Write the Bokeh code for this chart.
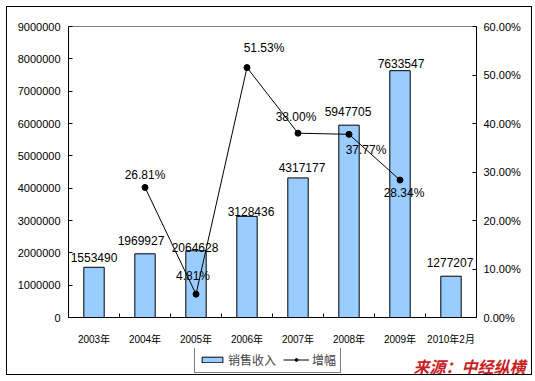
import numpy as np
from bokeh.plotting import figure
from bokeh.layouts import column, row
from bokeh.core.properties import value
from bokeh.models import (ColumnDataSource, Range1d, LinearAxis, FixedTicker,
                          NumeralTickFormatter, LabelSet, Legend, LegendItem, Label)
from bokeh.embed import file_html
from bokeh.resources import INLINE

# ---- data ----
categories = ["2003年", "2004年", "2005年", "2006年", "2007年", "2008年", "2009年", "2010年2月"]
sales = [1553490, 1969927, 2064628, 3128436, 4317177, 5947705, 7633547, 1277207]
growth_pct = [None, 26.81, 4.81, 51.53, 38.00, 37.77, 28.34, None]
sales_ticks = [0, 1000000, 2000000, 3000000, 4000000, 5000000, 6000000, 7000000, 8000000, 9000000]
pct_ticks = [0.0, 0.1, 0.2, 0.3, 0.4, 0.5, 0.6]
series_names = ["销售收入", "增幅"]
source_note = "来源：中经纵横"

# ---- label placement (pixel offsets, style only) ----
bar_lbl_dx = [0, -4, -1, 4, 4, -1, 1, -1]
bar_lbl_dy = [10, 13, 3, 5, 10, 14, 7, 14]
pct_lbl_dx = [0, 0, -3, 17, -2, 17, 4, 0]
pct_lbl_dy = [0, 12, 18, 20, 16, -16, -13, 0]

NUM_FONT = "Liberation Sans"
CJK_FONT = "'Liberation Sans', 'Noto Sans CJK SC'"
BAR_FILL = "#99ccff"

n = len(categories)
xs = np.arange(n) + 0.5
growth = np.array([np.nan if g is None else g / 100.0 for g in growth_pct])

bar_src = ColumnDataSource(dict(
    x=xs, y=sales, txt=[str(v) for v in sales],
    dx=bar_lbl_dx, dy=bar_lbl_dy))
mask = ~np.isnan(growth)
pct_src = ColumnDataSource(dict(
    x=xs[mask], y=growth[mask],
    txt=["%.2f%%" % (g * 100) for g in growth[mask]],
    dx=[d for d, m in zip(pct_lbl_dx, mask) if m],
    dy=[d for d, m in zip(pct_lbl_dy, mask) if m]))
line_src = ColumnDataSource(dict(x=xs, y=growth))

p = figure(width=524, height=341, output_backend="svg", toolbar_location=None,
           x_range=Range1d(0, n), y_range=Range1d(0, 9000000),
           min_border_left=61, min_border_right=55, min_border_top=19, min_border_bottom=31)
p.extra_y_ranges = {"pct": Range1d(0, 0.6)}
p.xgrid.grid_line_color = None
p.ygrid.grid_line_color = None
p.outline_line_color = "#808080"
p.outline_line_width = 1
p.background_fill_color = "white"
p.border_fill_color = "white"

bars = p.vbar(x="x", top="y", width=0.4, source=bar_src,
              fill_color=BAR_FILL, line_color="black", line_width=1)
gl = p.line(x="x", y="y", source=line_src, y_range_name="pct", line_color="black", line_width=1)
gs = p.scatter(x="x", y="y", source=pct_src, y_range_name="pct", size=6,
               fill_color="black", line_color="black")

# bottom axis
xa = p.xaxis[0]
xa.ticker = FixedTicker(ticks=list(xs), minor_ticks=list(np.arange(1, n)))
xa.major_label_overrides = {float(x): c for x, c in zip(xs, categories)}
xa.major_tick_line_color = None
xa.minor_tick_in = 4
xa.minor_tick_out = 0
xa.minor_tick_line_color = "black"
xa.axis_line_color = "black"
xa.major_label_standoff = 10
xa.major_label_text_font = CJK_FONT
xa.major_label_text_font_size = "10px"
xa.major_label_text_color = "black"

# left axis
ya = p.yaxis[0]
ya.ticker = FixedTicker(ticks=sales_ticks)
ya.formatter = NumeralTickFormatter(format="0")
ya.minor_tick_line_color = None
ya.major_tick_in = 4
ya.major_tick_out = 0
ya.major_label_standoff = 8
ya.axis_line_color = "black"
ya.major_tick_line_color = "black"
ya.major_label_text_font = NUM_FONT
ya.major_label_text_font_size = "11px"
ya.major_label_text_color = "black"

# right axis
ra = LinearAxis(y_range_name="pct", ticker=FixedTicker(ticks=pct_ticks),
                formatter=NumeralTickFormatter(format="0.00%"))
ra.minor_tick_line_color = None
ra.major_tick_in = 4
ra.major_tick_out = 0
ra.major_label_standoff = 7
ra.axis_line_color = "black"
ra.major_tick_line_color = "black"
ra.major_label_text_font = NUM_FONT
ra.major_label_text_font_size = "11px"
ra.major_label_text_color = "black"
p.add_layout(ra, "right")

# data labels
bl = LabelSet(x="x", y="y", text="txt", source=bar_src, x_offset="dx", y_offset="dy",
              text_align="center", text_baseline="middle",
              text_font=value(NUM_FONT), text_font_size=value("12px"), text_color="black")
pl = LabelSet(x="x", y="y", text="txt", source=pct_src, y_range_name="pct",
              x_offset="dx", y_offset="dy",
              text_align="center", text_baseline="middle",
              text_font=value(NUM_FONT), text_font_size=value("12px"), text_color="black")
p.add_layout(bl)
p.add_layout(pl)

# ---- footer strip: legend + source note ----
f = figure(width=524, height=26, output_backend="svg", toolbar_location=None,
           x_range=Range1d(-100, -90), y_range=Range1d(-1e9, -0.9e9),
           min_border_left=0, min_border_right=0, min_border_top=0, min_border_bottom=0,
           x_axis_location=None, y_axis_location=None)
f.xgrid.grid_line_color = None
f.ygrid.grid_line_color = None
f.outline_line_color = None
f.border_fill_color = "white"
# same series styles (outside the visible range; used only as legend keys)
lb = f.vbar(x="x", top="y", width=0.4, source=bar_src,
            fill_color=BAR_FILL, line_color="black", line_width=1)
ll = f.line(x="x", y="y", source=line_src, line_color="black", line_width=1)
ls = f.scatter(x="x", y="y", source=pct_src, size=6, fill_color="black", line_color="black")

legend = Legend(items=[LegendItem(label=series_names[0], renderers=[lb]),
                       LegendItem(label=series_names[1], renderers=[ll, ls])],
                location=(187, 1), orientation="horizontal",
                glyph_width=26, glyph_height=7, label_height=13, label_standoff=3,
                spacing=7, padding=4, margin=0,
                label_text_font="Noto Sans CJK SC", label_text_font_size="12px",
                border_line_color="black", border_line_width=1,
                background_fill_color="white", background_fill_alpha=1)
f.add_layout(legend, "center")

src_lbl = Label(x=518, y=9, x_units="screen", y_units="screen", text=source_note,
                text_align="right", text_baseline="middle",
                text_font="Noto Sans CJK SC", text_font_size="16px",
                text_font_style="bold italic", text_color="#c8201e")
f.add_layout(src_lbl)

layout = column(p, row(f), spacing=0,
                styles={"border": "1px solid black", "margin-left": "6px", "margin-top": "6px"})

open("out.html", "w").write(file_html(layout, INLINE))
